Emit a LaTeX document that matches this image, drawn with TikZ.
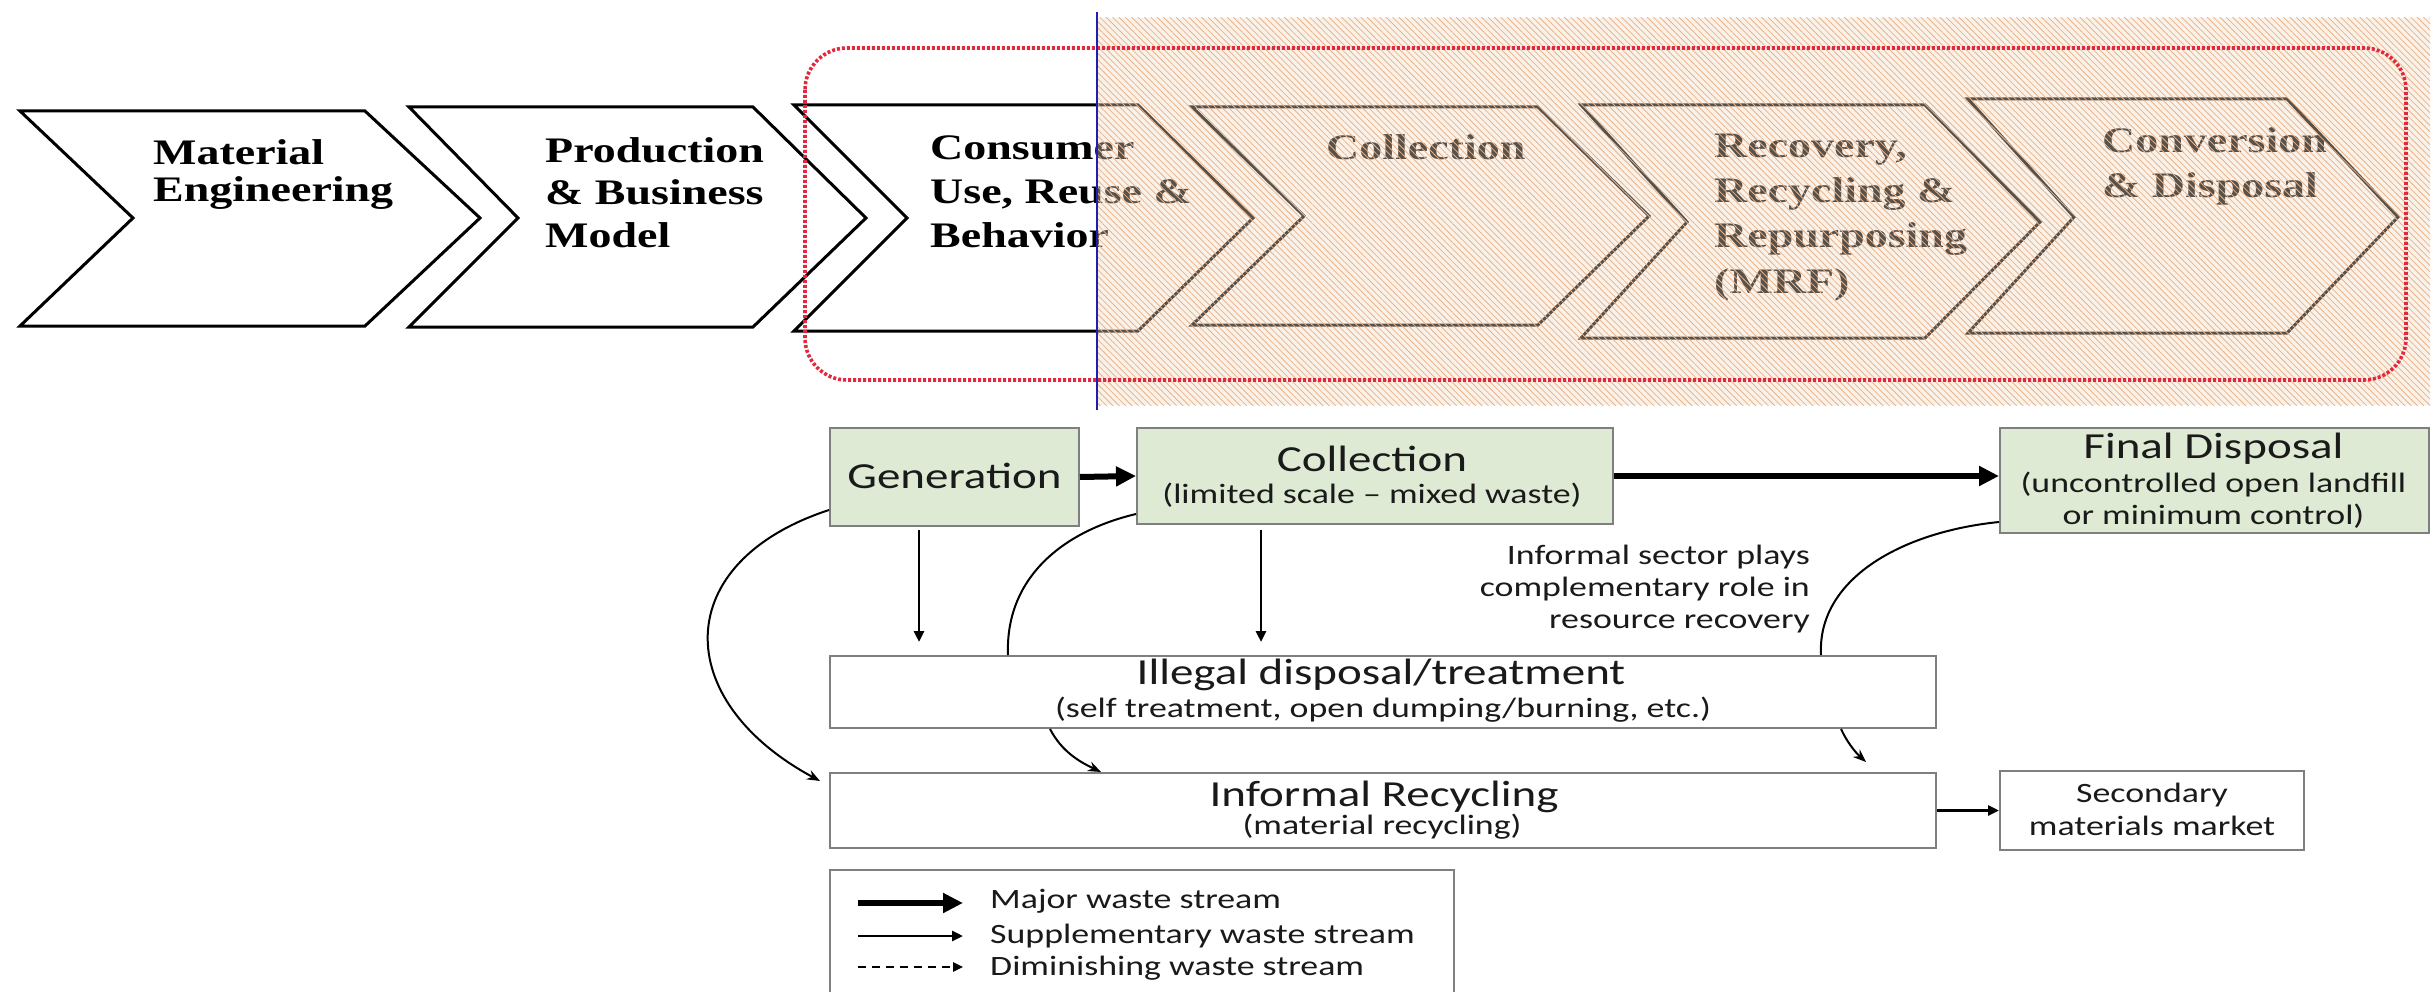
\documentclass[tikz,border=0pt]{standalone}
\usepackage{fontspec}
\setmainfont{Carlito}[FakeStretch=1.28]
\newfontfamily\chevfont{Liberation Serif}[FakeStretch=1.28]
\usetikzlibrary{arrows.meta,calc,patterns.meta}

\definecolor{ovl}{HTML}{F2DCC6}
\definecolor{hatch}{HTML}{E7B48C}
\definecolor{grn}{HTML}{DEEAD4}
\definecolor{bord}{HTML}{7F7F7F}
\definecolor{dotred}{HTML}{E3283E}
\definecolor{vblue}{HTML}{1E1EB0}
\definecolor{ink}{HTML}{1A1A1A}

\tikzset{
  chev/.style={draw=black, line width=3pt, fill=white, line join=miter},
  chv/.style={font=\chevfont\bfseries\fontsize{35.9}{40}\selectfont, inner sep=0pt, anchor=base west},
  gbox/.style={draw=bord, line width=2pt, fill=grn, inner sep=0pt, anchor=north west},
  wbox/.style={draw=bord, line width=2pt, fill=white, inner sep=0pt, anchor=north west},
  ttl/.style={font=\fontsize{36.7}{40}\selectfont, text=ink, inner sep=0pt, anchor=base},
  sub/.style={font=\fontsize{28}{30}\selectfont, text=ink, inner sep=0pt, anchor=base},
  major/.style={line width=6pt, -{Triangle[length=20pt,width=19pt]}},
  supp/.style={line width=2.8pt, -{Triangle[length=11pt,width=10pt]}},
  flow/.style={line width=2pt, -{Stealth[length=13pt,width=10pt]}},
  plain/.style={line width=2pt},
  dimin/.style={line width=2.4pt, dash pattern=on 8pt off 6pt, -{Triangle[length=10pt,width=9pt]}},
}

\begin{document}
\begin{tikzpicture}[x=1pt,y=-1pt]
\useasboundingbox[fill=white] (0,0) rectangle (2435,992);
\begin{scope}
\clip (0,0) rectangle (2435,992);

% ---------- value-chain chevrons ----------
\draw[chev] (20,111) -- (365,111) -- (480,218) -- (365,326) -- (20,326) -- (133,218) -- cycle;
\draw[chev] (409,107) -- (753,107) -- (866,218) -- (753,327) -- (409,327) -- (518,218) -- cycle;
\draw[chev] (794,105) -- (1138,105) -- (1253,218) -- (1138,331) -- (794,331) -- (907,218) -- cycle;
\draw[chev] (1192,107) -- (1538,107) -- (1649,216) -- (1538,325) -- (1192,325) -- (1304,216) -- cycle;
\draw[chev] (1581,105) -- (1925,105) -- (2040,222) -- (1925,338) -- (1581,338) -- (1687,222) -- cycle;
\draw[chev] (1968,99) -- (2287,99) -- (2398,217) -- (2287,333) -- (1968,333) -- (2074,217) -- cycle;

\node[chv] (c1a) at (153,165) {Material};
\node[chv] (c1b) at (153,202) {Engineering};
\node[chv] (c2a) at (545,163) {Production};
\node[chv] (c2b) at (545,205) {\& Business};
\node[chv] (c2c) at (545,248) {Model};
\node[chv] (c3a) at (930,160) {Consumer};
\node[chv] (c3b) at (930,204) {Use, Reuse \&};
\node[chv] (c3c) at (930,248) {Behavior};
\node[chv] (c4a) at (1326,160) {Collection};
\node[chv] (c5a) at (1714,158) {Recovery,};
\node[chv] (c5b) at (1714,203) {Recycling \&};
\node[chv] (c5c) at (1714,248) {Repurposing};
\node[chv] (c5d) at (1714,294) {(MRF)};
\node[chv] (c6a) at (2102,153) {Conversion};
\node[chv] (c6b) at (2102,198) {\& Disposal};

% translucent hatched band over the end-of-life stages
\fill[ovl, fill opacity=0.37] (1097,18) rectangle (2430,405);
\fill[pattern={Lines[angle=-45,distance=4.5pt,line width=0.8pt]}, pattern color=hatch, fill opacity=0.10]
  (1097,18) rectangle (2430,405);

% dotted frame and divider
\draw[dotred, line width=3.6pt, dash pattern=on 3pt off 2pt, rounded corners=42pt]
  (805,48) rectangle (2406,380);
\draw[vblue, line width=2pt] (1097,12) -- (1097,410);

% ---------- waste-flow diagram ----------
\node[gbox, minimum width=249pt, minimum height=98pt] (gen) at (829,427) {};
\node[gbox, minimum width=476pt, minimum height=96pt] (coll) at (1136,427) {};
\node[gbox, minimum width=429pt, minimum height=105pt] (fin) at (1999,427) {};
\node[wbox, minimum width=1106pt, minimum height=72pt] (ill) at (829,655) {};
\node[wbox, minimum width=1106pt, minimum height=75pt] (inf) at (829,772) {};
\node[wbox, minimum width=304pt, minimum height=79pt] (sec) at (1999,770) {};
\node[wbox, minimum width=624pt, minimum height=170pt] (leg) at (829,869) {};

\node[ttl] (genT) at ($(gen.north)+(0,61)$) {Generation};
\node[ttl] (collT) at ($(coll.north)+(-3,44)$) {Collection};
\node[sub] (collS) at ($(coll.north)+(-3,76)$) {(limited scale – mixed waste)};
\node[ttl] (finT) at ($(fin.north)+(-1,31)$) {Final Disposal};
\node[sub] (finS) at ($(fin.north)+(-1,65)$) {(uncontrolled open landfill};
\node[sub] (finS2) at ($(fin.north)+(-1,97)$) {or minimum control)};
\node[ttl] (illT) at ($(ill.north)+(-2,29)$) {Illegal disposal/treatment};
\node[sub] (illS) at ($(ill.north)+(0,62)$) {(self treatment, open dumping/burning, etc.)};
\node[ttl] (infT) at ($(inf.north)+(1,34)$) {Informal Recycling};
\node[sub] (infS) at ($(inf.north)+(-1,62)$) {(material recycling)};
\node[sub] (secT) at ($(sec.north)+(0,32)$) {Secondary};
\node[sub] (secS) at ($(sec.north)+(0,65)$) {materials market};

\node[sub, anchor=base east] (noteA) at ($(coll.south east)+(196,39)$) {Informal sector plays};
\node[sub, anchor=base east] (noteB) at ($(coll.south east)+(196,71)$) {complementary role in};
\node[sub, anchor=base east] (noteC) at ($(coll.south east)+(196,103)$) {resource recovery};

% major streams
\draw[major] (gen.east) -- (coll.west);
\draw[major] (coll.east) -- (coll.east -| fin.west);

% supplementary streams
\draw[supp] ($(gen.south west)+(90,3)$) -- ($(gen.south west |- ill.north)+(90,-13)$);
\draw[supp] ($(coll.south west)+(125,5)$) -- ($(coll.south west |- ill.north)+(125,-13)$);
\draw[supp] (inf.east) -- (inf.east -| sec.west);

% informal sector links
\draw[plain] ($(coll.south west)+(0,-11)$) .. controls ($(coll.south west)+(-76,7)$) and ($(ill.north west)+(176,-75)$) .. ($(ill.north west)+(179,0)$);
\draw[plain] ($(fin.south west)+(0,-12)$) .. controls ($(fin.south west)+(-99,-2)$) and ($(ill.north east)+(-120,-75)$) .. ($(ill.north east)+(-116,0)$);
\draw[flow] ($(gen.south west)+(0,-17)$) .. controls ($(gen.south west)+(-159,35)$) and ($(inf.north west)+(-159,-72)$) .. ($(inf.north west)+(-9,9)$);
\draw[flow] ($(ill.south west)+(221,0)$) .. controls ($(ill.south west)+(233,23)$) and ($(inf.north west)+(251,-10)$) .. ($(inf.north west)+(272,0)$);
\draw[flow] ($(ill.south east)+(-96,0)$) .. controls ($(ill.south east)+(-90,13)$) and ($(inf.north east)+(-82,-20)$) .. ($(inf.north east)+(-71,-10)$);

% legend
\coordinate (lA0) at ($(leg.north west)+(29,34)$);
\coordinate (lA1) at ($(leg.north west)+(134,34)$);
\coordinate (lB0) at ($(leg.north west)+(29,67)$);
\coordinate (lB1) at ($(leg.north west)+(134,67)$);
\coordinate (lC0) at ($(leg.north west)+(29,98)$);
\coordinate (lC1) at ($(leg.north west)+(134,98)$);
\draw[major] (lA0) -- (lA1);
\draw[supp] (lB0) -- (lB1);
\draw[dimin] (lC0) -- (lC1);
\node[sub, anchor=base west] (legA) at ($(leg.north west)+(161,39)$) {Major waste stream};
\node[sub, anchor=base west] (legB) at ($(leg.north west)+(161,74)$) {Supplementary waste stream};
\node[sub, anchor=base west] (legC) at ($(leg.north west)+(161,106)$) {Diminishing waste stream};
\end{scope}
\end{tikzpicture}
\end{document}
